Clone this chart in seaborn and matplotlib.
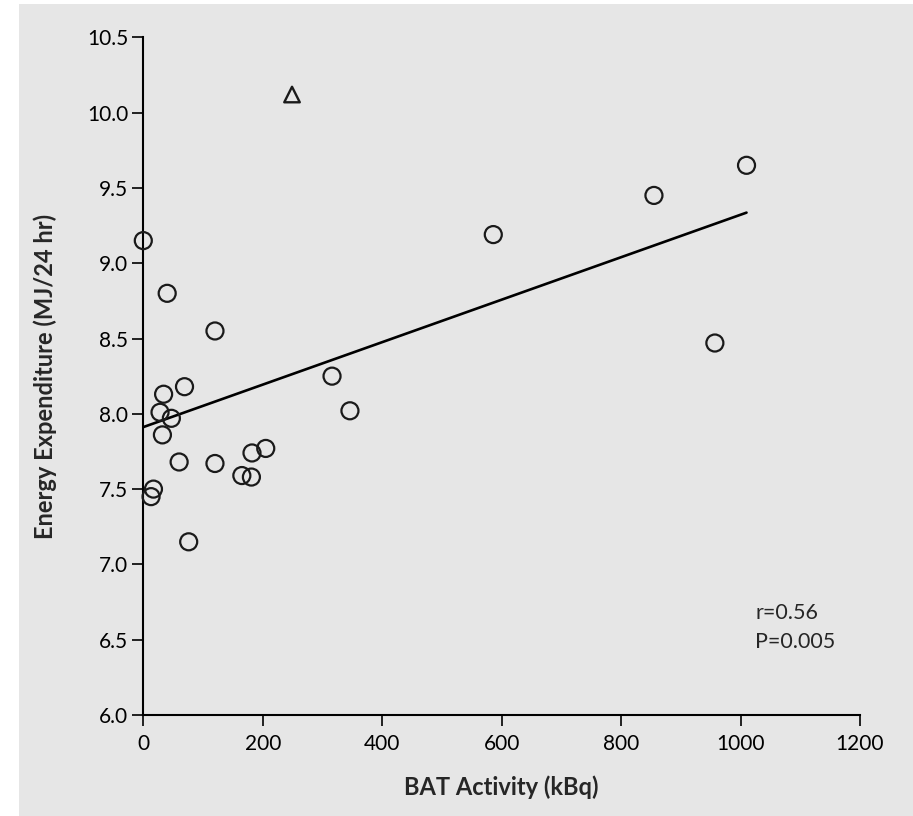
import numpy as np
import pandas as pd
import matplotlib
matplotlib.use("Agg")
import matplotlib.pyplot as plt
import seaborn as sns
from matplotlib.patches import Rectangle

# Values (BAT activity in kBq, energy expenditure in MJ/24 hr)
bat_activity = [0, 40, 120, 316, 346, 34, 69, 28, 47, 32, 60, 120,
                165, 181, 182, 205, 17, 13, 76, 586, 855, 1010, 957]
energy_expenditure = [9.15, 8.80, 8.55, 8.25, 8.02, 8.13, 8.18, 8.01, 7.97, 7.86, 7.68, 7.67,
                      7.59, 7.58, 7.74, 7.77, 7.50, 7.45, 7.15, 9.19, 9.45, 9.65, 8.47]
# the single subject drawn as a triangle
outlier_bat = [249]
outlier_energy = [10.12]

x_ticks = [0, 200, 400, 600, 800, 1000, 1200]
y_ticks = [6.0, 6.5, 7.0, 7.5, 8.0, 8.5, 9.0, 9.5, 10.0, 10.5]
stats_text = "r=0.56\nP=0.005"

df = pd.DataFrame({'bat': bat_activity, 'ee': energy_expenditure, 'kind': 'circle'})
df_out = pd.DataFrame({'bat': outlier_bat, 'ee': outlier_energy, 'kind': 'triangle'})
df_all = pd.concat([df, df_out], ignore_index=True)

sns.set_style("ticks")
plt.rcParams['font.family'] = ['Lato', 'DejaVu Sans']

bg = '#e6e6e6'
fig = plt.figure(figsize=(9.13, 8.16), dpi=100, facecolor='white')
fig.patches.append(Rectangle((19 / 913, 0), 1 - 19 / 913, 1 - 4 / 816,
                             transform=fig.transFigure, facecolor=bg,
                             edgecolor='none', zorder=-10))
ax = fig.add_axes([143.3 / 913, 1 - 715 / 816, (860 - 143.3) / 913, (715 - 37.3) / 816])
ax.set_facecolor('none')

# regression line through all subjects
sns.regplot(data=df_all, x='bat', y='ee', scatter=False, ci=None, truncate=True,
            color='black', line_kws={'linewidth': 1.9}, ax=ax)

sns.scatterplot(data=df, x='bat', y='ee', marker='o', s=150, facecolors='none',
                edgecolor='#1a1a1a', linewidth=1.6, clip_on=False, zorder=3, ax=ax)
sns.scatterplot(data=df_out, x='bat', y='ee', marker='^', s=125, facecolors='none',
                edgecolor='#1a1a1a', linewidth=1.7, clip_on=False, zorder=3, ax=ax)

ax.set_xlim(0, 1200)
ax.set_ylim(6.0, 10.5)
ax.set_xticks(x_ticks)
ax.set_yticks(y_ticks)
ax.set_yticklabels([f"{v:.1f}" for v in y_ticks])
ax.tick_params(axis='both', direction='out', length=8, width=1.2, labelsize=15,
               colors='black')
ax.tick_params(axis='x', pad=6)
ax.tick_params(axis='y', pad=3)
for side in ['top', 'right']:
    ax.spines[side].set_visible(False)
for side in ['left', 'bottom']:
    ax.spines[side].set_linewidth(1.5)
    ax.spines[side].set_color('black')

ax.set_xlabel('BAT Activity (kBq)', fontsize=17, fontweight='bold', va='center')
ax.set_ylabel('Energy Expenditure (MJ/24 hr)', fontsize=17, fontweight='bold', va='center')
ax.xaxis.set_label_coords(0.5, -0.106)
ax.yaxis.set_label_coords(-0.137, 0.5)

ax.text(1025, 6.58, stats_text, fontsize=15.5, va='center', ha='left', linespacing=1.55)

plt.savefig('out.png', dpi=100, facecolor='white')
plt.close()
